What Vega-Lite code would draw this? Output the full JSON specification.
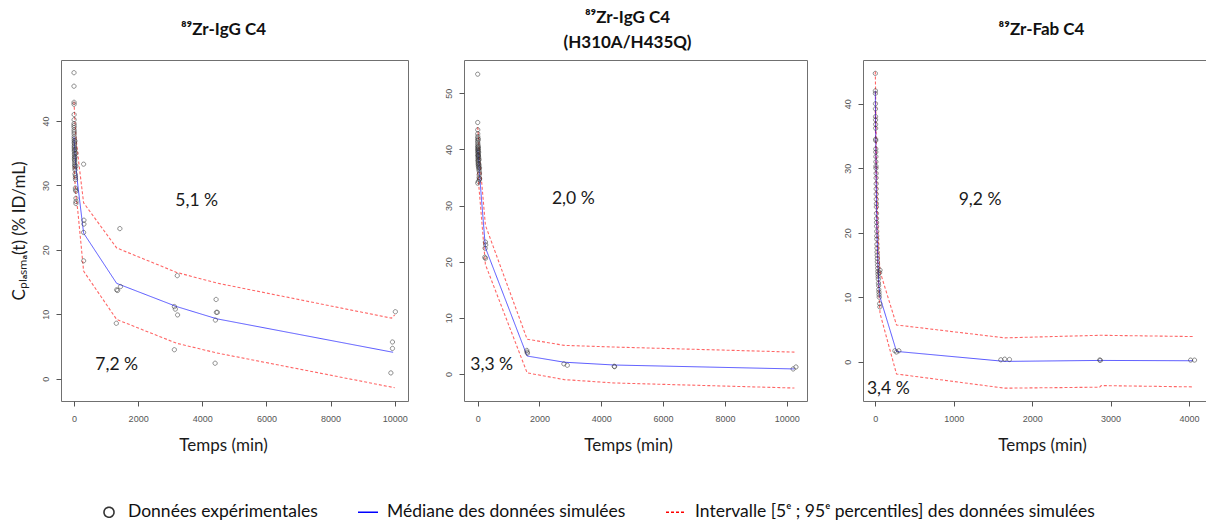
{
  "$schema": "https://vega.github.io/schema/vega-lite/v6.json",
  "background": "white",
  "padding": {"left": 9, "top": 8, "right": 0, "bottom": 0},
  "bounds": "flush",
  "spacing": 56,
  "resolve": {"scale": {"color": "shared", "shape": "shared", "strokeDash": "shared"}, "legend": {"color": "shared", "shape": "shared", "strokeDash": "shared"}},
  "config": {
    "view": {"stroke": "#707070", "strokeWidth": 1},
    "axis": {"grid": false, "domain": false, "tickColor": "#555555", "tickSize": 5, "labelColor": "#555555", "labelFont": "Liberation Sans", "labelFontSize": 9, "titleFont": "Lato", "titleFontWeight": "normal", "titleColor": "#1a1a1a", "titleFontSize": 17, "format": "d"},
    "axisX": {"labelPadding": 8, "titlePadding": 14},
    "axisY": {"labelAngle": -90, "labelAlign": "center", "labelBaseline": "bottom", "labelPadding": 6, "titlePadding": 13},
    "title": {"font": "Lato", "fontSize": 17, "fontWeight": "bold", "color": "#111111", "anchor": "middle"},
    "legend": {"symbolOpacity": 1, "symbolStrokeWidth": 1.6, "symbolFillColor": "transparent"}
  },
  "hconcat": [
    {
      "width": 347, "height": 341,
      "title": {"text": "⁸⁹Zr-IgG C4", "offset": 21, "dx": -11},
      "data": {"values": [
        {"s":"obs","t":0,"v":47.5},{"s":"obs","t":0,"v":45.4},{"s":"obs","t":2,"v":42.9},{"s":"obs","t":2,"v":42.6},{"s":"obs","t":3,"v":41.0},{"s":"obs","t":3,"v":40.2},{"s":"obs","t":1,"v":39.6},{"s":"obs","t":1,"v":39.3},{"s":"obs","t":2,"v":39.0},{"s":"obs","t":4,"v":38.6},
        {"s":"obs","t":5,"v":38.3},{"s":"obs","t":5,"v":38.0},{"s":"obs","t":6,"v":37.6},{"s":"obs","t":6,"v":37.3},{"s":"obs","t":7,"v":37.0},{"s":"obs","t":7,"v":36.7},
        {"s":"obs","t":10,"v":36.5},{"s":"obs","t":10,"v":36.2},{"s":"obs","t":11,"v":36.0},{"s":"obs","t":11,"v":35.8},{"s":"obs","t":12,"v":35.5},{"s":"obs","t":12,"v":35.3},
        {"s":"obs","t":15,"v":35.0},{"s":"obs","t":15,"v":34.8},{"s":"obs","t":16,"v":34.5},{"s":"obs","t":16,"v":34.2},{"s":"obs","t":17,"v":34.0},
        {"s":"obs","t":20,"v":33.8},{"s":"obs","t":20,"v":33.5},{"s":"obs","t":22,"v":33.2},{"s":"obs","t":22,"v":33.0},{"s":"obs","t":24,"v":32.7},
        {"s":"obs","t":30,"v":36.9},{"s":"obs","t":30,"v":35.6},{"s":"obs","t":30,"v":34.4},{"s":"obs","t":32,"v":32.4},{"s":"obs","t":32,"v":31.8},
        {"s":"obs","t":45,"v":31.5},{"s":"obs","t":45,"v":31.2},{"s":"obs","t":47,"v":30.9},{"s":"obs","t":45,"v":29.6},{"s":"obs","t":47,"v":29.3},
        {"s":"obs","t":60,"v":29.1},{"s":"obs","t":60,"v":28.0},{"s":"obs","t":62,"v":27.5},{"s":"obs","t":58,"v":27.2},{"s":"obs","t":60,"v":35.0},{"s":"obs","t":60,"v":33.0},
        {"s":"obs","t":300,"v":33.3},{"s":"obs","t":310,"v":24.6},{"s":"obs","t":310,"v":24.0},{"s":"obs","t":300,"v":22.7},{"s":"obs","t":300,"v":18.3},
        {"s":"obs","t":1430,"v":23.3},{"s":"obs","t":1330,"v":13.8},{"s":"obs","t":1360,"v":13.7},{"s":"obs","t":1450,"v":14.3},{"s":"obs","t":1320,"v":8.6},
        {"s":"obs","t":3220,"v":16.0},{"s":"obs","t":3130,"v":11.2},{"s":"obs","t":3160,"v":10.8},{"s":"obs","t":3230,"v":9.9},{"s":"obs","t":3130,"v":4.5},
        {"s":"obs","t":4430,"v":12.3},{"s":"obs","t":4440,"v":10.3},{"s":"obs","t":4470,"v":10.3},{"s":"obs","t":4410,"v":9.1},{"s":"obs","t":4400,"v":2.4},
        {"s":"obs","t":10020,"v":10.4},{"s":"obs","t":9930,"v":5.7},{"s":"obs","t":9930,"v":4.7},{"s":"obs","t":9880,"v":0.9},
        {"s":"med","t":0,"v":37.5},{"s":"med","t":30,"v":35},{"s":"med","t":60,"v":33},{"s":"med","t":120,"v":30},{"s":"med","t":300,"v":22.6},{"s":"med","t":1330,"v":14.8},{"s":"med","t":3200,"v":11.2},{"s":"med","t":4450,"v":9.3},{"s":"med","t":9950,"v":4.1},
        {"s":"int","b":"u","t":0,"v":43},{"s":"int","b":"u","t":30,"v":40},{"s":"int","b":"u","t":60,"v":37.5},{"s":"int","b":"u","t":150,"v":33.5},{"s":"int","b":"u","t":300,"v":27.3},{"s":"int","b":"u","t":1330,"v":20.3},{"s":"int","b":"u","t":3200,"v":16.5},{"s":"int","b":"u","t":4450,"v":14.85},{"s":"int","b":"u","t":9900,"v":9.4},{"s":"int","b":"u","t":10000,"v":9.9},
        {"s":"int","b":"l","t":0,"v":33},{"s":"int","b":"l","t":30,"v":30.5},{"s":"int","b":"l","t":60,"v":28.5},{"s":"int","b":"l","t":120,"v":26},{"s":"int","b":"l","t":300,"v":16.7},{"s":"int","b":"l","t":1330,"v":9.2},{"s":"int","b":"l","t":3200,"v":5.5},{"s":"int","b":"l","t":4450,"v":4.0},{"s":"int","b":"l","t":10000,"v":-1.4},
        {"s":"lab","t":3826,"v":27.6,"lab":"5,1 %"},{"s":"lab","t":1331,"v":2.1,"lab":"7,2 %"}
      ]},
      "encoding": {
        "x": {"field": "t", "type": "quantitative", "scale": {"domain": [-405, 10414], "nice": false, "zero": false}, "axis": {"values": [0, 2000, 4000, 6000, 8000, 10000], "title": "Temps (min)", "titleX": 162}},
        "y": {"field": "v", "type": "quantitative", "scale": {"domain": [-3.46, 49.47], "nice": false, "zero": false}, "axis": {"values": [0, 10, 20, 30, 40], "title": "Cₚₗₐₛₘₐ(t) (% ID/mL)"}},
        "color": {"field": "s", "type": "nominal", "scale": {"domain": ["obs", "med", "int"], "range": ["#333333", "#0000ff", "#ff0000"]},
          "legend": {"title": null, "orient": "none", "legendX": 37, "legendY": 441, "direction": "horizontal", "padding": 0, "labelFont": "Lato", "labelFontSize": 17.5, "labelColor": "#111111", "labelOffset": 8, "columnPadding": 36, "symbolSize": 400, "labelLimit": 600,
            "labelExpr": "datum.value === 'obs' ? 'Données expérimentales' : datum.value === 'med' ? 'Médiane des données simulées' : 'Intervalle [5ᵉ ; 95ᵉ percentiles] des données simulées'"}},
        "strokeDash": {"field": "s", "type": "nominal", "scale": {"domain": ["obs", "med", "int"], "range": [[1, 0], [1, 0], [3, 2]]}}
      },
      "layer": [
        {"transform": [{"filter": "datum.s === 'int'"}], "mark": {"type": "line", "strokeWidth": 1.1, "strokeOpacity": 0.6}, "encoding": {"detail": {"field": "b"}}},
        {"transform": [{"filter": "datum.s === 'med'"}], "mark": {"type": "line", "strokeWidth": 1, "strokeOpacity": 0.65}},
        {"transform": [{"filter": "datum.s === 'obs'"}], "mark": {"type": "point", "size": 72, "strokeWidth": 0.9, "strokeOpacity": 0.9},
          "encoding": {"shape": {"field": "s", "type": "nominal", "scale": {"domain": ["obs", "med", "int"], "range": ["M0.5,0A0.5,0.5,0,1,1,-0.5,0A0.5,0.5,0,1,1,0.5,0Z", "stroke", "stroke"]}}}},
        {"transform": [{"filter": "datum.s === 'lab'"}], "mark": {"type": "text", "font": "Lato", "fontSize": 17.5}, "encoding": {"text": {"field": "lab"}, "color": {"value": "#1a1a1a"}, "strokeDash": null}}
      ]
    },
    {
      "width": 343, "height": 341,
      "title": {"text": ["⁸⁹Zr-IgG C4", "(H310A/H435Q)"], "offset": 8, "lineHeight": 25, "dx": -8},
      "data": {"values": [
        {"s":"obs","t":0,"v":53.4},{"s":"obs","t":0,"v":44.8},{"s":"obs","t":2,"v":43.5},{"s":"obs","t":2,"v":42.8},{"s":"obs","t":3,"v":42.3},{"s":"obs","t":3,"v":42.0},{"s":"obs","t":1,"v":41.6},{"s":"obs","t":1,"v":41.3},
        {"s":"obs","t":5,"v":41.0},{"s":"obs","t":5,"v":40.7},{"s":"obs","t":6,"v":40.4},{"s":"obs","t":6,"v":40.1},{"s":"obs","t":7,"v":39.9},{"s":"obs","t":7,"v":39.6},
        {"s":"obs","t":10,"v":39.4},{"s":"obs","t":10,"v":39.1},{"s":"obs","t":11,"v":38.8},{"s":"obs","t":11,"v":38.5},{"s":"obs","t":12,"v":38.2},{"s":"obs","t":12,"v":37.9},
        {"s":"obs","t":15,"v":40.5},{"s":"obs","t":15,"v":39.8},{"s":"obs","t":16,"v":38.9},{"s":"obs","t":16,"v":37.6},{"s":"obs","t":17,"v":37.3},
        {"s":"obs","t":20,"v":41.8},{"s":"obs","t":20,"v":40.2},{"s":"obs","t":22,"v":39.0},{"s":"obs","t":22,"v":38.0},{"s":"obs","t":24,"v":37.0},
        {"s":"obs","t":30,"v":39.5},{"s":"obs","t":30,"v":38.6},{"s":"obs","t":32,"v":37.5},{"s":"obs","t":32,"v":36.8},{"s":"obs","t":34,"v":36.5},
        {"s":"obs","t":45,"v":38.2},{"s":"obs","t":45,"v":37.2},{"s":"obs","t":47,"v":36.2},{"s":"obs","t":47,"v":35.5},{"s":"obs","t":45,"v":35.0},
        {"s":"obs","t":60,"v":36.7},{"s":"obs","t":60,"v":35.8},{"s":"obs","t":62,"v":34.8},{"s":"obs","t":58,"v":34.6},{"s":"obs","t":0,"v":34.0},{"s":"obs","t":20,"v":34.3},
        {"s":"obs","t":250,"v":23.5},{"s":"obs","t":240,"v":22.4},{"s":"obs","t":260,"v":23.0},{"s":"obs","t":230,"v":20.8},{"s":"obs","t":250,"v":20.6},
        {"s":"obs","t":1590,"v":4.2},{"s":"obs","t":1600,"v":3.9},{"s":"obs","t":1610,"v":3.7},{"s":"obs","t":2790,"v":1.8},{"s":"obs","t":2900,"v":1.55},
        {"s":"obs","t":4420,"v":1.37},{"s":"obs","t":4430,"v":1.3},{"s":"obs","t":10210,"v":0.9},{"s":"obs","t":10300,"v":1.25},
        {"s":"med","t":0,"v":40},{"s":"med","t":30,"v":38},{"s":"med","t":60,"v":35.5},{"s":"med","t":250,"v":22.5},{"s":"med","t":1600,"v":3.2},{"s":"med","t":2800,"v":2.1},{"s":"med","t":4420,"v":1.6},{"s":"med","t":10250,"v":0.9},
        {"s":"int","b":"u","t":0,"v":44},{"s":"int","b":"u","t":30,"v":42},{"s":"int","b":"u","t":60,"v":38.5},{"s":"int","b":"u","t":250,"v":26.5},{"s":"int","b":"u","t":1600,"v":6.2},{"s":"int","b":"u","t":2800,"v":5.1},{"s":"int","b":"u","t":4420,"v":4.8},{"s":"int","b":"u","t":10250,"v":3.9},
        {"s":"int","b":"l","t":0,"v":36},{"s":"int","b":"l","t":30,"v":34},{"s":"int","b":"l","t":60,"v":32},{"s":"int","b":"l","t":250,"v":19.5},{"s":"int","b":"l","t":1600,"v":0.2},{"s":"int","b":"l","t":2800,"v":-1.0},{"s":"int","b":"l","t":4420,"v":-1.6},{"s":"int","b":"l","t":10250,"v":-2.5},
        {"s":"lab","t":3094,"v":31.1,"lab":"2,0 %"},{"s":"lab","t":453,"v":1.55,"lab":"3,3 %"}
      ]},
      "encoding": {
        "x": {"field": "t", "type": "quantitative", "scale": {"domain": [-443, 10657], "nice": false, "zero": false}, "axis": {"values": [0, 2000, 4000, 6000, 8000, 10000], "title": "Temps (min)", "titleX": 164}},
        "y": {"field": "v", "type": "quantitative", "scale": {"domain": [-4.81, 55.93], "nice": false, "zero": false}, "axis": {"values": [0, 10, 20, 30, 40, 50], "title": null}},
        "color": {"field": "s", "type": "nominal", "scale": {"domain": ["obs", "med", "int"], "range": ["#333333", "#0000ff", "#ff0000"]},
          "legend": {"title": null, "orient": "none", "legendX": 37, "legendY": 441, "direction": "horizontal", "padding": 0, "labelFont": "Lato", "labelFontSize": 17.5, "labelColor": "#111111", "labelOffset": 8, "columnPadding": 36, "symbolSize": 400, "labelLimit": 600,
            "labelExpr": "datum.value === 'obs' ? 'Données expérimentales' : datum.value === 'med' ? 'Médiane des données simulées' : 'Intervalle [5ᵉ ; 95ᵉ percentiles] des données simulées'"}},
        "strokeDash": {"field": "s", "type": "nominal", "scale": {"domain": ["obs", "med", "int"], "range": [[1, 0], [1, 0], [3, 2]]}}
      },
      "layer": [
        {"transform": [{"filter": "datum.s === 'int'"}], "mark": {"type": "line", "strokeWidth": 1.1, "strokeOpacity": 0.6}, "encoding": {"detail": {"field": "b"}}},
        {"transform": [{"filter": "datum.s === 'med'"}], "mark": {"type": "line", "strokeWidth": 1, "strokeOpacity": 0.65}},
        {"transform": [{"filter": "datum.s === 'obs'"}], "mark": {"type": "point", "size": 72, "strokeWidth": 0.9, "strokeOpacity": 0.9},
          "encoding": {"shape": {"field": "s", "type": "nominal", "scale": {"domain": ["obs", "med", "int"], "range": ["M0.5,0A0.5,0.5,0,1,1,-0.5,0A0.5,0.5,0,1,1,0.5,0Z", "stroke", "stroke"]}}}},
        {"transform": [{"filter": "datum.s === 'lab'"}], "mark": {"type": "text", "font": "Lato", "fontSize": 17.5}, "encoding": {"text": {"field": "lab"}, "color": {"value": "#1a1a1a"}, "strokeDash": null}}
      ]
    },
    {
      "width": 343, "height": 341,
      "title": {"text": "⁸⁹Zr-Fab C4", "offset": 21, "dx": 7},
      "data": {"values": [
        {"s":"obs","t":0,"v":44.7},{"s":"obs","t":1,"v":42.0},{"s":"obs","t":1,"v":41.6},{"s":"obs","t":2,"v":40.0},{"s":"obs","t":2,"v":39.2},
        {"s":"obs","t":3,"v":38.0},{"s":"obs","t":3,"v":37.5},{"s":"obs","t":4,"v":36.8},{"s":"obs","t":4,"v":36.2},{"s":"obs","t":4,"v":34.5},{"s":"obs","t":5,"v":34.3},
        {"s":"obs","t":6,"v":33.0},{"s":"obs","t":6,"v":32.5},{"s":"obs","t":7,"v":31.8},{"s":"obs","t":7,"v":31.0},{"s":"obs","t":8,"v":30.3},{"s":"obs","t":8,"v":30.0},
        {"s":"obs","t":10,"v":29.2},{"s":"obs","t":10,"v":28.5},{"s":"obs","t":11,"v":27.6},{"s":"obs","t":11,"v":26.8},{"s":"obs","t":12,"v":26.0},{"s":"obs","t":12,"v":25.2},
        {"s":"obs","t":14,"v":24.5},{"s":"obs","t":14,"v":24.0},{"s":"obs","t":15,"v":23.0},{"s":"obs","t":15,"v":22.2},{"s":"obs","t":16,"v":21.6},{"s":"obs","t":16,"v":21.0},
        {"s":"obs","t":18,"v":20.2},{"s":"obs","t":18,"v":19.5},{"s":"obs","t":19,"v":19.0},{"s":"obs","t":20,"v":18.2},{"s":"obs","t":21,"v":17.6},{"s":"obs","t":22,"v":17.0},
        {"s":"obs","t":24,"v":16.5},{"s":"obs","t":25,"v":16.0},{"s":"obs","t":26,"v":15.5},{"s":"obs","t":28,"v":15.0},{"s":"obs","t":30,"v":14.5},
        {"s":"obs","t":32,"v":14.0},{"s":"obs","t":34,"v":13.6},{"s":"obs","t":36,"v":13.2},{"s":"obs","t":38,"v":12.8},{"s":"obs","t":40,"v":12.2},
        {"s":"obs","t":42,"v":11.8},{"s":"obs","t":44,"v":11.2},{"s":"obs","t":46,"v":10.8},{"s":"obs","t":48,"v":10.4},{"s":"obs","t":50,"v":10.0},
        {"s":"obs","t":60,"v":14.2},{"s":"obs","t":55,"v":13.8},{"s":"obs","t":55,"v":9.0},{"s":"obs","t":58,"v":8.5},
        {"s":"obs","t":250,"v":1.7},{"s":"obs","t":270,"v":1.5},{"s":"obs","t":300,"v":1.7},{"s":"obs","t":1600,"v":0.3},{"s":"obs","t":1650,"v":0.4},{"s":"obs","t":1710,"v":0.35},
        {"s":"obs","t":2860,"v":0.26},{"s":"obs","t":2870,"v":0.22},{"s":"obs","t":4020,"v":0.25},{"s":"obs","t":4070,"v":0.25},
        {"s":"med","t":0,"v":42},{"s":"med","t":5,"v":35},{"s":"med","t":10,"v":30},{"s":"med","t":15,"v":25},{"s":"med","t":20,"v":21},{"s":"med","t":30,"v":16.5},{"s":"med","t":45,"v":12},{"s":"med","t":60,"v":10},{"s":"med","t":270,"v":1.6},{"s":"med","t":1650,"v":0.05},{"s":"med","t":2870,"v":0.2},{"s":"med","t":4050,"v":0.15},
        {"s":"int","b":"u","t":0,"v":45},{"s":"int","b":"u","t":10,"v":36},{"s":"int","b":"u","t":20,"v":28},{"s":"int","b":"u","t":30,"v":22},{"s":"int","b":"u","t":45,"v":17},{"s":"int","b":"u","t":60,"v":14},{"s":"int","b":"u","t":270,"v":5.7},{"s":"int","b":"u","t":1650,"v":3.7},{"s":"int","b":"u","t":2870,"v":4.1},{"s":"int","b":"u","t":4050,"v":3.9},
        {"s":"int","b":"l","t":0,"v":39},{"s":"int","b":"l","t":10,"v":26},{"s":"int","b":"l","t":20,"v":19},{"s":"int","b":"l","t":30,"v":15},{"s":"int","b":"l","t":45,"v":11},{"s":"int","b":"l","t":60,"v":7.5},{"s":"int","b":"l","t":270,"v":-1.9},{"s":"int","b":"l","t":1650,"v":-4.1},{"s":"int","b":"l","t":2860,"v":-3.95},{"s":"int","b":"l","t":2880,"v":-3.7},{"s":"int","b":"l","t":4050,"v":-3.9},
        {"s":"lab","t":1335,"v":25.1,"lab":"9,2 %"},{"s":"lab","t":166,"v":-4.2,"lab":"3,4 %"}
      ]},
      "encoding": {
        "x": {"field": "t", "type": "quantitative", "scale": {"domain": [-157, 4216], "nice": false, "zero": false}, "axis": {"values": [0, 1000, 2000, 3000, 4000], "title": "Temps (min)", "titleX": 179}},
        "y": {"field": "v", "type": "quantitative", "scale": {"domain": [-6.09, 46.78], "nice": false, "zero": false}, "axis": {"values": [0, 10, 20, 30, 40], "title": null}},
        "color": {"field": "s", "type": "nominal", "scale": {"domain": ["obs", "med", "int"], "range": ["#333333", "#0000ff", "#ff0000"]},
          "legend": {"title": null, "orient": "none", "legendX": 37, "legendY": 441, "direction": "horizontal", "padding": 0, "labelFont": "Lato", "labelFontSize": 17.5, "labelColor": "#111111", "labelOffset": 8, "columnPadding": 36, "symbolSize": 400, "labelLimit": 600,
            "labelExpr": "datum.value === 'obs' ? 'Données expérimentales' : datum.value === 'med' ? 'Médiane des données simulées' : 'Intervalle [5ᵉ ; 95ᵉ percentiles] des données simulées'"}},
        "strokeDash": {"field": "s", "type": "nominal", "scale": {"domain": ["obs", "med", "int"], "range": [[1, 0], [1, 0], [3, 2]]}}
      },
      "layer": [
        {"transform": [{"filter": "datum.s === 'int'"}], "mark": {"type": "line", "strokeWidth": 1.1, "strokeOpacity": 0.6}, "encoding": {"detail": {"field": "b"}}},
        {"transform": [{"filter": "datum.s === 'med'"}], "mark": {"type": "line", "strokeWidth": 1, "strokeOpacity": 0.65}},
        {"transform": [{"filter": "datum.s === 'obs'"}], "mark": {"type": "point", "size": 72, "strokeWidth": 0.9, "strokeOpacity": 0.9},
          "encoding": {"shape": {"field": "s", "type": "nominal", "scale": {"domain": ["obs", "med", "int"], "range": ["M0.5,0A0.5,0.5,0,1,1,-0.5,0A0.5,0.5,0,1,1,0.5,0Z", "stroke", "stroke"]}}}},
        {"transform": [{"filter": "datum.s === 'lab'"}], "mark": {"type": "text", "font": "Lato", "fontSize": 17.5}, "encoding": {"text": {"field": "lab"}, "color": {"value": "#1a1a1a"}, "strokeDash": null}}
      ]
    }
  ]
}
